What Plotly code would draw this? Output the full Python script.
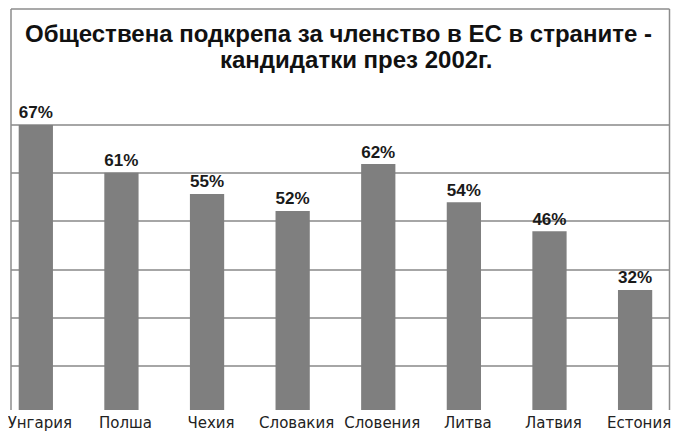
import plotly.graph_objects as go

categories = ["Унгария", "Полша", "Чехия", "Словакия", "Словения", "Литва", "Латвия", "Естония"]
bar_values = [59.1, 49.2, 44.8, 41.3, 51.0, 43.1, 37.1, 24.9]
value_labels = ["67%", "61%", "55%", "52%", "62%", "54%", "46%", "32%"]
title_line1 = "Обществена подкрепа за членство в ЕС в страните -"
title_line2 = "кандидатки през 2002г."

# page is shown with the browser's 8px body margin, so figure pixels = page pixels - 8
OFF = 8
W, H = 672, 425
ML, MR, MT, MB = 0, 11, 92, 23
PW, PH = W - ML - MR, H - MT - MB
Y_MAX = 64.3
BAND = 86.0            # px per category
LABEL_SHIFT = 4.0      # category labels sit slightly right of their bars

def px_x(p):
    return (p - OFF - ML) / PW

def px_y(p):
    return (H - MB - (p - OFF)) / PH

x_pos = list(range(len(categories)))
x0 = px_x(8) * PW / BAND - 0.29

fig = go.Figure()
fig.add_trace(go.Bar(
    x=x_pos,
    y=bar_values,
    text=value_labels,
    texttemplate="<b>%{text}</b>",
    textposition="outside",
    cliponaxis=False,
    textfont=dict(family="Liberation Sans", size=19, color="#1a1a1a"),
    marker=dict(color="#7f7f7f", line=dict(width=0)),
    width=0.4,
    hoverinfo="skip",
))

border = dict(color="#8c8c8c", width=1.5)
xl, xr, yt = px_x(8), px_x(669.5), px_y(9)
fig.add_shape(type="line", xref="paper", yref="paper", x0=xl, x1=xl, y0=0, y1=yt, line=border)
fig.add_shape(type="line", xref="paper", yref="paper", x0=xr, x1=xr, y0=0, y1=yt, line=border)
fig.add_shape(type="line", xref="paper", yref="paper", x0=xl, x1=xr, y0=yt, y1=yt, line=border)

title_font = dict(family="Liberation Sans", size=24, color="#111111")
fig.add_annotation(text="<b>" + title_line1 + "</b>", xref="paper", yref="paper",
                   x=px_x(337), y=px_y(33), showarrow=False, xanchor="center", yanchor="middle",
                   font=title_font)
fig.add_annotation(text="<b>" + title_line2 + "</b>", xref="paper", yref="paper",
                   x=px_x(355), y=px_y(60), showarrow=False, xanchor="center", yanchor="middle",
                   font=title_font)

fig.update_layout(
    width=W, height=H,
    margin=dict(l=ML, r=MR, t=MT, b=MB, pad=0),
    paper_bgcolor="white", plot_bgcolor="white",
    showlegend=False,
    xaxis=dict(
        range=[x0, x0 + PW / BAND],
        tickmode="array",
        tickvals=[v + LABEL_SHIFT / BAND for v in x_pos],
        ticktext=categories,
        ticklabeloverflow="allow",
        ticklabelstandoff=2,
        showgrid=False, zeroline=False, showline=False, ticks="",
        tickfont=dict(family="DejaVu Sans", size=15, color="#222222"),
    ),
    yaxis=dict(
        range=[0, Y_MAX],
        tick0=9.13, dtick=10,
        showgrid=True, gridcolor="#a6a6a6", gridwidth=1.5,
        zeroline=False, showline=False, showticklabels=False, ticks="",
    ),
)

fig.write_html("out.html")
